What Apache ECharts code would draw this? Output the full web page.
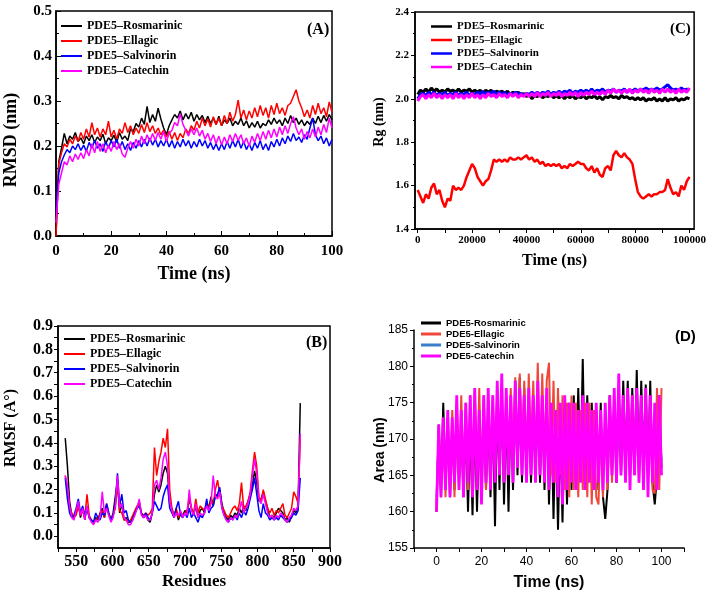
<!DOCTYPE html>
<html><head><meta charset="utf-8">
<script src="https://cdn.jsdelivr.net/npm/echarts@6/dist/echarts.min.js"></script>
<style>html,body{margin:0;padding:0;background:#fff}#c{width:709px;height:594px}</style>
</head><body><div id="c"></div>
<script>
// ---------- names & colours ----------
const names = ['PDE5–Rosmarinic','PDE5–Ellagic','PDE5–Salvinorin','PDE5–Catechin'];
const namesD = ['PDE5-Rosmarinic','PDE5-Ellagic','PDE5-Salvinorin','PDE5-Catechin'];
const colors = ['#000000','#ff0000','#0000ff','#ff00ff'];
const colorsD = ['#000000','#f0473b','#3a7fcb','#ff00ff'];

// ---------- sampling grids ----------
function grid(start, step, n){ const a=[]; for(let i=0;i<n;i++) a.push(start+step*i); return a; }
const timeNs = grid(0, 1, 101);          // 0..100 ns  (panels A, D)
const timeC  = grid(0, 1000, 101);       // 0..100000  (panel C)
const residues = grid(535, 3, 109);      // 535..859   (panel B)

// ---------- tick labels ----------
const ticksCx = [0,20000,40000,60000,80000,100000];
const ticksCxMinor = [0,10000,20000,30000,40000,50000,60000,70000,80000,90000,100000];
const ticksBx = [550,600,650,700,750,800,850,900];
const ticksBxMinor = [525,550,575,600,625,650,675,700,725,750,775,800,825,850,875,900];
const ticksBy = [0.0,0.1,0.2,0.3,0.4,0.5,0.6,0.7,0.8,0.9];
const ticksByMinor = [0,0.05,0.1,0.15,0.2,0.25,0.3,0.35,0.4,0.45,0.5,0.55,0.6,0.65,0.7,0.75,0.8,0.85,0.9];
const ticksDx = [0,20,40,60,80,100];
const ticksDxMinor = [-10,0,10,20,30,40,50,60,70,80,90,100,110];

// ---------- axis titles ----------
const titleA = ['Time (ns)', 'RMSD (nm)'];
const titleB = ['Residues', 'RMSF (A°)'];
const titleC = ['Time (ns)', 'Rg (nm)'];
const titleD = ['Time (ns)', 'Area (nm)'];

// ---------- Panel A: RMSD (nm) ----------
const rmsdRos = [
0.000,0.165,0.195,0.228,0.205,0.222,0.215,0.230,0.210,0.218,
0.205,0.222,0.212,0.225,0.208,0.220,0.212,0.226,0.205,0.218,
0.212,0.224,0.208,0.230,0.215,0.222,0.212,0.238,0.232,0.250,
0.242,0.262,0.248,0.288,0.252,0.270,0.255,0.284,0.260,0.240,
0.225,0.245,0.258,0.270,0.262,0.278,0.258,0.272,0.260,0.275,
0.255,0.270,0.258,0.268,0.252,0.266,0.250,0.262,0.248,0.266,
0.245,0.258,0.250,0.262,0.245,0.255,0.248,0.262,0.245,0.256,
0.240,0.252,0.242,0.255,0.240,0.250,0.245,0.258,0.248,0.262,
0.250,0.258,0.245,0.262,0.250,0.268,0.252,0.262,0.248,0.258,
0.245,0.255,0.248,0.262,0.250,0.266,0.252,0.268,0.255,0.270,
0.258];
const rmsdEll = [
0.000,0.160,0.185,0.205,0.198,0.215,0.205,0.222,0.210,0.230,
0.215,0.238,0.220,0.252,0.225,0.240,0.220,0.238,0.225,0.255,
0.220,0.235,0.215,0.238,0.228,0.252,0.230,0.245,0.225,0.240,
0.228,0.248,0.230,0.252,0.232,0.245,0.228,0.240,0.225,0.235,
0.220,0.232,0.215,0.230,0.212,0.228,0.218,0.238,0.228,0.245,
0.235,0.255,0.240,0.262,0.245,0.260,0.242,0.265,0.248,0.262,
0.245,0.268,0.250,0.275,0.255,0.270,0.302,0.262,0.280,0.258,
0.278,0.262,0.285,0.265,0.290,0.268,0.285,0.262,0.290,0.270,
0.295,0.272,0.285,0.268,0.290,0.295,0.310,0.325,0.300,0.285,
0.265,0.280,0.262,0.290,0.270,0.295,0.272,0.285,0.265,0.298,
0.275];
const rmsdSal = [
0.050,0.140,0.165,0.180,0.192,0.185,0.200,0.192,0.205,0.190,
0.202,0.188,0.208,0.195,0.212,0.195,0.205,0.188,0.210,0.195,
0.212,0.198,0.215,0.195,0.210,0.192,0.205,0.190,0.208,0.195,
0.212,0.198,0.215,0.200,0.218,0.202,0.215,0.198,0.212,0.200,
0.215,0.198,0.212,0.195,0.210,0.198,0.215,0.200,0.212,0.195,
0.210,0.198,0.215,0.200,0.212,0.195,0.208,0.192,0.205,0.190,
0.205,0.192,0.210,0.195,0.212,0.198,0.215,0.195,0.210,0.192,
0.205,0.190,0.208,0.195,0.212,0.192,0.205,0.190,0.210,0.198,
0.215,0.200,0.218,0.205,0.222,0.210,0.228,0.212,0.220,0.208,
0.225,0.215,0.240,0.262,0.225,0.212,0.222,0.205,0.218,0.200,
0.215];
const rmsdCat = [
0.030,0.115,0.140,0.165,0.158,0.178,0.165,0.182,0.170,0.185,
0.172,0.192,0.178,0.205,0.185,0.210,0.188,0.205,0.185,0.202,
0.188,0.210,0.192,0.205,0.182,0.175,0.195,0.210,0.195,0.215,
0.200,0.222,0.205,0.225,0.210,0.228,0.212,0.230,0.215,0.232,
0.210,0.228,0.235,0.252,0.245,0.272,0.248,0.235,0.222,0.238,
0.225,0.240,0.222,0.235,0.215,0.228,0.210,0.225,0.205,0.222,
0.202,0.220,0.205,0.225,0.210,0.228,0.212,0.225,0.205,0.218,
0.200,0.222,0.208,0.228,0.212,0.232,0.215,0.235,0.218,0.238,
0.220,0.242,0.225,0.245,0.228,0.250,0.265,0.240,0.225,0.238,
0.215,0.232,0.218,0.238,0.220,0.242,0.225,0.248,0.230,0.262,
0.240];

// ---------- Panel C: Rg (nm) ----------
const rgRos = [
2.02,2.04,2.03,2.045,2.03,2.05,2.035,2.045,2.03,2.04,
2.03,2.045,2.035,2.04,2.03,2.045,2.03,2.04,2.035,2.045,
2.03,2.04,2.03,2.04,2.025,2.04,2.03,2.04,2.025,2.035,
2.03,2.035,2.025,2.035,2.02,2.03,2.02,2.03,2.015,2.025,
2.01,2.02,2.00,2.015,2.01,2.02,2.005,2.015,2.01,2.02,
2.005,2.015,2.005,2.015,2.00,2.015,2.005,2.015,2.00,2.01,
2.005,2.015,2.00,2.01,2.005,2.015,2.00,2.01,1.995,2.01,
2.005,2.015,2.005,2.01,2.00,2.015,2.005,2.01,2.00,2.005,
1.995,2.005,1.995,2.005,1.99,2.00,1.995,2.005,1.99,2.00,
1.99,2.005,1.99,2.00,1.995,2.005,1.99,2.00,1.995,2.005,
2.00];
const rgEll = [
1.58,1.55,1.52,1.56,1.54,1.59,1.61,1.56,1.58,1.53,
1.50,1.54,1.53,1.60,1.58,1.59,1.58,1.60,1.64,1.67,
1.70,1.68,1.64,1.62,1.60,1.62,1.63,1.67,1.72,1.71,
1.72,1.71,1.72,1.71,1.73,1.72,1.72,1.73,1.72,1.73,
1.74,1.72,1.73,1.71,1.72,1.70,1.71,1.69,1.70,1.69,
1.70,1.69,1.70,1.68,1.69,1.68,1.70,1.69,1.70,1.71,
1.70,1.70,1.68,1.67,1.69,1.66,1.68,1.65,1.64,1.68,
1.69,1.67,1.74,1.76,1.74,1.73,1.75,1.73,1.72,1.70,
1.63,1.57,1.55,1.54,1.55,1.56,1.55,1.56,1.56,1.57,
1.57,1.58,1.63,1.59,1.56,1.57,1.55,1.60,1.58,1.62,
1.64];
const rgSal = [
2.00,2.02,2.025,2.015,2.03,2.02,2.03,2.015,2.025,2.02,
2.03,2.015,2.025,2.02,2.03,2.015,2.025,2.02,2.03,2.015,
2.025,2.02,2.03,2.02,2.035,2.02,2.03,2.025,2.035,2.02,
2.03,2.02,2.03,2.015,2.025,2.02,2.03,2.02,2.025,2.015,
2.025,2.02,2.03,2.02,2.03,2.02,2.03,2.025,2.035,2.02,
2.03,2.025,2.035,2.025,2.035,2.03,2.04,2.025,2.035,2.03,
2.04,2.03,2.04,2.03,2.045,2.03,2.04,2.035,2.045,2.03,
2.04,2.035,2.045,2.03,2.04,2.035,2.045,2.03,2.04,2.035,
2.045,2.035,2.045,2.04,2.05,2.04,2.045,2.04,2.05,2.04,
2.045,2.055,2.065,2.05,2.04,2.045,2.04,2.05,2.04,2.045,
2.04];
const rgCat = [
1.99,2.01,2.02,2.00,2.02,2.005,2.025,2.005,2.02,2.00,
2.02,2.005,2.02,2.00,2.025,2.005,2.02,2.00,2.02,2.005,
2.025,2.005,2.02,2.00,2.02,2.005,2.025,2.01,2.02,2.005,
2.025,2.01,2.02,2.005,2.025,2.01,2.025,2.005,2.02,2.01,
2.025,2.01,2.025,2.01,2.03,2.01,2.025,2.015,2.03,2.01,
2.025,2.015,2.03,2.01,2.025,2.015,2.03,2.015,2.03,2.01,
2.03,2.015,2.03,2.02,2.035,2.02,2.03,2.02,2.035,2.02,
2.04,2.025,2.045,2.03,2.04,2.025,2.04,2.03,2.045,2.025,
2.04,2.03,2.045,2.03,2.04,2.025,2.045,2.03,2.04,2.025,
2.045,2.03,2.045,2.03,2.04,2.025,2.045,2.03,2.04,2.03,
2.05];

// ---------- Panel B: RMSF ----------
const rmsfRos = [
0.42,0.30,0.15,0.09,0.08,0.10,0.14,0.08,0.12,0.07,
0.13,0.08,0.07,0.06,0.08,0.07,0.10,0.12,0.08,0.13,
0.09,0.07,0.10,0.17,0.24,0.10,0.14,0.07,0.08,0.06,
0.06,0.08,0.10,0.12,0.15,0.10,0.08,0.09,0.07,0.06,
0.10,0.18,0.22,0.19,0.22,0.27,0.30,0.27,0.14,0.12,
0.08,0.11,0.07,0.10,0.09,0.11,0.10,0.16,0.12,0.09,
0.13,0.08,0.11,0.12,0.10,0.14,0.12,0.17,0.13,0.18,
0.17,0.20,0.14,0.10,0.08,0.07,0.09,0.08,0.10,0.09,
0.12,0.10,0.13,0.11,0.15,0.18,0.22,0.28,0.23,0.15,
0.16,0.19,0.15,0.12,0.08,0.09,0.08,0.10,0.12,0.11,
0.10,0.07,0.08,0.06,0.09,0.11,0.10,0.13,0.57];
const rmsfEll = [
0.26,0.20,0.12,0.10,0.08,0.09,0.13,0.09,0.11,0.08,
0.18,0.09,0.07,0.06,0.07,0.08,0.09,0.11,0.08,0.14,
0.10,0.07,0.09,0.12,0.22,0.11,0.10,0.07,0.07,0.06,
0.07,0.09,0.11,0.13,0.14,0.10,0.09,0.10,0.09,0.10,
0.12,0.38,0.26,0.32,0.36,0.42,0.38,0.46,0.20,0.12,
0.09,0.12,0.08,0.10,0.09,0.10,0.11,0.17,0.12,0.10,
0.16,0.10,0.13,0.12,0.11,0.15,0.12,0.15,0.14,0.20,
0.24,0.18,0.13,0.11,0.09,0.08,0.10,0.12,0.13,0.11,
0.14,0.23,0.12,0.13,0.15,0.19,0.28,0.36,0.30,0.17,
0.15,0.20,0.16,0.12,0.10,0.12,0.09,0.11,0.10,0.12,
0.14,0.09,0.08,0.10,0.12,0.19,0.17,0.14,0.42];
const rmsfSal = [
0.25,0.16,0.10,0.08,0.09,0.12,0.16,0.10,0.13,0.09,
0.12,0.08,0.07,0.06,0.10,0.08,0.07,0.10,0.09,0.14,
0.10,0.07,0.09,0.14,0.27,0.13,0.18,0.10,0.11,0.07,
0.06,0.07,0.10,0.12,0.13,0.10,0.08,0.10,0.08,0.07,
0.10,0.15,0.13,0.11,0.12,0.17,0.20,0.22,0.12,0.10,
0.08,0.12,0.15,0.09,0.08,0.10,0.08,0.12,0.08,0.10,
0.08,0.06,0.09,0.08,0.10,0.16,0.10,0.12,0.13,0.17,
0.18,0.21,0.12,0.09,0.07,0.06,0.08,0.07,0.09,0.07,
0.10,0.08,0.11,0.09,0.12,0.16,0.20,0.25,0.18,0.11,
0.08,0.14,0.10,0.09,0.07,0.08,0.07,0.08,0.07,0.09,
0.08,0.07,0.06,0.07,0.08,0.10,0.09,0.11,0.25];
const rmsfCat = [
0.26,0.22,0.13,0.08,0.07,0.11,0.15,0.09,0.12,0.07,
0.13,0.08,0.06,0.05,0.07,0.06,0.08,0.19,0.10,0.12,
0.09,0.06,0.08,0.13,0.26,0.12,0.14,0.08,0.07,0.05,
0.05,0.07,0.09,0.12,0.16,0.09,0.08,0.09,0.07,0.07,
0.10,0.22,0.24,0.20,0.25,0.33,0.36,0.30,0.15,0.11,
0.08,0.10,0.09,0.11,0.08,0.10,0.09,0.20,0.11,0.09,
0.14,0.08,0.10,0.09,0.10,0.13,0.11,0.14,0.26,0.17,
0.16,0.19,0.12,0.09,0.07,0.06,0.08,0.07,0.09,0.08,
0.11,0.15,0.10,0.12,0.14,0.18,0.26,0.33,0.27,0.16,
0.14,0.18,0.14,0.10,0.08,0.09,0.07,0.09,0.08,0.10,
0.09,0.07,0.06,0.08,0.09,0.12,0.11,0.13,0.44];

// ---------- Panel D: Area (nm) ----------
const areaRos = [
160,172,162,175,163,173,162,172,163,173,
164,172,162,173,160,172,159.5,173,160,172,
162,174,163,173,162,175,158,176,163,177,
161,175,160,176,163,178,165,178.5,164,177,
165,176,164,175,165,176,164,175,163,176,
161,174,159,173,157.5,172,158.5,174,161,175,
163,176,164,177,165,181,164,176,165,175,
164,174,163,175,162,159,163,176,165,175,
164,176,165,178,166,178,165,177,166,179.5,
165,178,166,177.5,165,178,164,161,165,176,
166];
const areaEll = [
161,171,163,172,162,173,163,174,162,175,
163,176,164,175,163,176,162,177,163,177,
164,176,163,175,164,176,165,177,166,176,
165,176,166,177,167,178.5,166,179,167,178,
166,179,168,178,167,180.5,166,179,167,178,
180.5,165,178,164,177,165,176,163,175,162,
176,163,175,162,174,163,175,162,175,161,
174,162,161,173,162,174,163,175,164,176,
165,175,166,176,165,177,166,176,165,175,
164,176,165,176,164,175,163,162.5,177,163,
177];
const areaSal = [
162,170,165,171,166,172,165,171,166,172,
166,171,165,172,166,173,165,172,166,171,
165,172,166,173,166,172,167,174,167,173,
166,173,167,172,166,173,167,172,166,173,
166,172,167,173,166,172,167,173,166,172,
165,172,166,171,165,172,165,171,166,172,
166,172,165,171,166,172,165,171,166,172,
165,171,166,172,165,171,166,172,166,173,
166,173,167,172,166,173,165,172,166,173,
166,172,165,173,166,172,166,171,165,172,
167];
const areaCat = [
160,172,162,173,163,174,162,173,164,176,
163,174,162,175,164,176,162,177,163,174,
161,176,164,177,163,176,164,178,165,179,
164,177,165,176,164,178,166,177,165,176,
164,177,165,176,164,178,165,176,164,177,
163,175,164,174,162,175,161,176,163,175,
164,175,163,174,164,176,163,175,164,174,
163,175,164,174,163,175,164,176,165,177,
164,179,165,176,164,177,163,176,165,177,
164,176,163,177,162,176,164,175,163,176,
165];

// ---------- build chart ----------
const SERIF = '"Liberation Serif","Times New Roman",serif';
const SANS = '"Liberation Sans",Arial,sans-serif';
const pair = (xs, ys) => xs.map((x, i) => [x, ys[i]]);

function lbl(font, size, weight, margin, extra) {
  return Object.assign({color:'#000', fontFamily:font, fontSize:size, fontWeight:weight, margin:margin}, extra||{});
}
function nameStyle(font, size) { return {color:'#000', fontFamily:font, fontSize:size, fontWeight:'bold'}; }
const axLine = {show:true, onZero:false, lineStyle:{color:'#000', width:1.5}};
function vTitle(text, x, y, font, size) {
  return {type:'text', x:x, y:y, rotation:Math.PI/2, silent:true,
    style:{text:text, fill:'#000', font:'bold ' + size + 'px ' + font, textAlign:'center', textVerticalAlign:'middle'}};
}

const option = {
  animation:false,
  backgroundColor:'#fff',
  grid:[
    {left:56, top:11, width:276, height:225, show:true, borderColor:'#000', borderWidth:1.5},
    {left:415, top:12, width:282, height:217, show:true, borderColor:'#000', borderWidth:1.5},
    {left:58, top:326, width:272, height:222, show:true, borderColor:'#000', borderWidth:1.5},
    {left:414, top:330, width:270, height:218, show:false}
  ],
  xAxis:[
    {gridIndex:0, type:'value', min:0, max:100, interval:20, axisLine:axLine,
     axisTick:{show:true, inside:true, length:5, lineStyle:{color:'#000'}},
     minorTick:{show:true, splitNumber:2, length:3, lineStyle:{color:'#000'}},
     splitLine:{show:false}, axisLabel:lbl(SERIF,15,'bold',8),
     name:titleA[0], nameLocation:'middle', nameGap:29, nameTextStyle:nameStyle(SERIF,18)},
    {gridIndex:1, type:'value', min:-1000, max:101700, axisLine:axLine,
     axisTick:{show:true, inside:false, length:4, customValues:ticksCxMinor, lineStyle:{color:'#000'}},
     splitLine:{show:false}, axisLabel:lbl(SERIF,11,'bold',6,{customValues:ticksCx, formatter:v=>String(v)}),
     name:titleC[0], nameLocation:'middle', nameGap:24, nameTextStyle:nameStyle(SERIF,16)},
    {gridIndex:2, type:'value', min:525, max:900, axisLine:axLine,
     axisTick:{show:true, inside:false, length:4, customValues:ticksBxMinor, lineStyle:{color:'#000'}},
     splitLine:{show:false}, axisLabel:lbl(SERIF,16,'bold',6,{customValues:ticksBx}),
     name:titleB[0], nameLocation:'middle', nameGap:25, nameTextStyle:nameStyle(SERIF,17)},
    {gridIndex:3, type:'value', min:-10, max:110, axisLine:axLine,
     axisTick:{show:true, inside:false, length:4, customValues:ticksDxMinor, lineStyle:{color:'#000'}},
     splitLine:{show:false}, axisLabel:lbl(SANS,12,'normal',8,{customValues:ticksDx}),
     name:titleD[0], nameLocation:'middle', nameGap:27, nameTextStyle:nameStyle(SANS,16)}
  ],
  yAxis:[
    {gridIndex:0, type:'value', min:0, max:0.5, interval:0.1, axisLine:axLine,
     axisTick:{show:true, inside:true, length:5, lineStyle:{color:'#000'}},
     minorTick:{show:true, splitNumber:2, length:3, lineStyle:{color:'#000'}},
     splitLine:{show:false}, axisLabel:lbl(SERIF,15,'bold',4,{formatter:v=>v.toFixed(1)})},
    {gridIndex:1, type:'value', min:1.4, max:2.4, interval:0.2, axisLine:axLine,
     axisTick:{show:true, inside:false, length:4, lineStyle:{color:'#000'}},
     minorTick:{show:true, splitNumber:2, length:2, lineStyle:{color:'#000'}},
     splitLine:{show:false}, axisLabel:lbl(SERIF,11,'bold',6,{formatter:v=>v.toFixed(1)})},
    {gridIndex:2, type:'value', min:-0.05, max:0.9, axisLine:axLine,
     axisTick:{show:true, inside:false, length:4, customValues:ticksByMinor, lineStyle:{color:'#000'}},
     splitLine:{show:false}, axisLabel:lbl(SERIF,16,'bold',5,{customValues:ticksBy, formatter:v=>v.toFixed(1)})},
    {gridIndex:3, type:'value', min:155, max:185, interval:5, axisLine:axLine,
     axisTick:{show:true, inside:false, length:4, lineStyle:{color:'#000'}},
     minorTick:{show:true, splitNumber:2, length:2, lineStyle:{color:'#000'}},
     splitLine:{show:false}, axisLabel:lbl(SANS,12,'normal',6)}
  ],
  graphic:[
    vTitle(titleA[1], 11, 140, SERIF, 18),
    vTitle(titleC[1], 379, 122, SERIF, 14),
    vTitle(titleB[1], 11, 428, SERIF, 16),
    vTitle(titleD[1], 380, 450, SANS, 14)
  ],
  legend:[
    {orient:'vertical', left:61, top:20, padding:0, itemGap:3, itemWidth:21, itemHeight:2, icon:'rect',
     selectedMode:false, textStyle:{fontFamily:SERIF, fontWeight:'bold', fontSize:12, color:'#000'}, data:names},
    {orient:'vertical', left:431, top:21, padding:0, itemGap:2.5, itemWidth:21, itemHeight:2.5, icon:'rect',
     selectedMode:false, textStyle:{fontFamily:SERIF, fontWeight:'bold', fontSize:11, color:'#000'}, data:names},
    {orient:'vertical', left:64, top:333, padding:0, itemGap:3, itemWidth:21, itemHeight:2, icon:'rect',
     selectedMode:false, textStyle:{fontFamily:SERIF, fontWeight:'bold', fontSize:12, color:'#000'}, data:names},
    {orient:'vertical', left:421, top:318, padding:0, itemGap:1, itemWidth:20, itemHeight:3, icon:'rect',
     selectedMode:false, textStyle:{fontFamily:SANS, fontWeight:'bold', fontSize:9.5, color:'#000'}, data:namesD}
  ],
  title:[
    {text:'(A)', left:307, top:22, padding:0, textStyle:{fontFamily:SERIF, fontWeight:'bold', fontSize:16, color:'#000'}},
    {text:'(C)', left:670, top:22, padding:0, textStyle:{fontFamily:SERIF, fontWeight:'bold', fontSize:15, color:'#000'}},
    {text:'(B)', left:306, top:335, padding:0, textStyle:{fontFamily:SERIF, fontWeight:'bold', fontSize:16, color:'#000'}},
    {text:'(D)', left:675, top:329, padding:0, textStyle:{fontFamily:SANS, fontWeight:'bold', fontSize:15, color:'#000'}}
  ],
  series:[]
};

function addSeries(gi, xs, ysList, nm, cols, widths) {
  ysList.forEach((ys, k) => {
    option.series.push({
      type:'line', name:nm[k], xAxisIndex:gi, yAxisIndex:gi, data:pair(xs, ys),
      showSymbol:false, symbol:'none', silent:true,
      lineStyle:{color:cols[k], width:widths[k]}, itemStyle:{color:cols[k]}
    });
  });
}
addSeries(0, timeNs, [rmsdRos, rmsdEll, rmsdSal, rmsdCat], names, colors, [1.5,1.5,1.5,1.5]);
addSeries(1, timeC, [rgRos, rgEll, rgSal, rgCat], names, colors, [3,2.5,3,3]);
addSeries(2, residues, [rmsfRos, rmsfEll, rmsfSal, rmsfCat], names, colors, [1.5,1.5,1.5,1.5]);
addSeries(3, timeNs, [areaRos, areaEll, areaSal, areaCat], namesD, colorsD, [2,2,2,2.8]);

const chart = echarts.init(document.getElementById('c'), null, {renderer:'canvas'});
chart.setOption(option);
</script>
</body></html>
